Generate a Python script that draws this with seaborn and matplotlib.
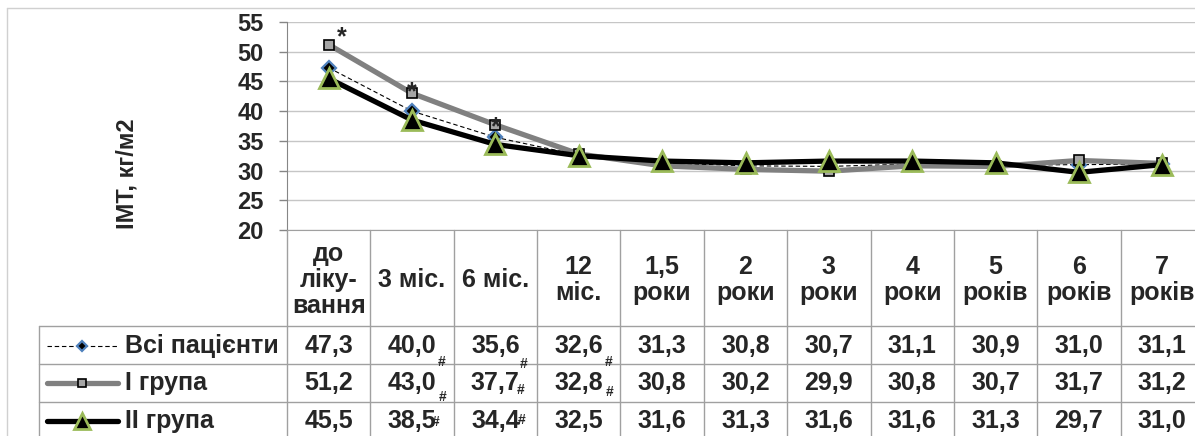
import numpy as np
import pandas as pd
import matplotlib
matplotlib.use("Agg")
import matplotlib.pyplot as plt
import matplotlib.transforms as mtransforms
import seaborn as sns

# ==============================
# DATA
# ==============================
periods = ["до\nліку-\nвання", "3 міс.", "6 міс.", "12\nміс.", "1,5\nроки", "2\nроки",
           "3\nроки", "4\nроки", "5\nроків", "6\nроків", "7\nроків"]
all_patients = [47.3, 40.0, 35.6, 32.6, 31.3, 30.8, 30.7, 31.1, 30.9, 31.0, 31.1]
group_1 = [51.2, 43.0, 37.7, 32.8, 30.8, 30.2, 29.9, 30.8, 30.7, 31.7, 31.2]
group_2 = [45.5, 38.5, 34.4, 32.5, 31.6, 31.3, 31.6, 31.6, 31.3, 29.7, 31.0]
series_names = ["Всі пацієнти", "І група", "ІІ група"]
star_points = [0, 1, 2]          # "*" over group I
hash_points = [[1, 2, 3], [1, 2, 3], [1, 2]]   # "#" marks in table rows

# ==============================
# STYLE
# ==============================
sns.set_style("white")
plt.rcParams["font.family"] = ["Liberation Sans", "DejaVu Sans"]
plt.rcParams["font.weight"] = "bold"

W, H = 1195, 436
GRID = "#c6c6c6"
TAB = "#a0a0a0"

styles = [
    dict(color="black", lw=0.8, ls=(0, (4, 2.5)), marker="D", ms=7,
         mfc="black", mec="#4f81bd", mew=1.6),
    dict(color="#808080", lw=3.8, ls="-", marker="s", ms=6.5,
         mfc="#a6a6a6", mec="black", mew=1.2),
    dict(color="black", lw=3.8, ls="-", marker="^", ms=14,
         mfc="black", mec="#9bbb59", mew=2),
]

df = pd.DataFrame({
    "pos": np.tile(np.arange(len(periods)), 3),
    "value": all_patients + group_1 + group_2,
    "group": np.repeat(series_names, len(periods)),
})

fig = plt.figure(figsize=(W / 100, H / 100), dpi=100)

# full-figure overlay in pixel coordinates (table, labels, border)
ov = fig.add_axes([0, 0, 1, 1], zorder=0)
ov.set_xlim(0, W)
ov.set_ylim(H, 0)
ov.axis("off")

ax = fig.add_axes([287 / W, (H - 230) / H, 917 / W, 208 / H], zorder=1)
ax.patch.set_alpha(0)

# ==============================
# LINES
# ==============================
for name, st in zip(series_names, styles):
    sub = df[df["group"] == name]
    sns.lineplot(data=sub, x="pos", y="value", ax=ax, color=st["color"], lw=st["lw"],
                 linestyle=st["ls"], marker=st["marker"], markersize=st["ms"],
                 markerfacecolor=st["mfc"], markeredgecolor=st["mec"],
                 markeredgewidth=st["mew"], legend=False)

ax.set_xlim(-0.5, len(periods) - 0.5)
ax.set_ylim(20, 55)
ax.set_yticks(range(20, 56, 5))
ax.set_xticks([])
ax.set_xlabel("")
ax.set_ylabel("")
ax.grid(axis="y", color=GRID, lw=1)
ax.tick_params(axis="y", labelsize=17, length=6, width=1, color="#868686",
               direction="out", pad=11, left=True)
for lab in ax.get_yticklabels():
    lab.set_fontweight("bold")
for s in ["top", "right"]:
    ax.spines[s].set_visible(False)
ax.spines["left"].set_color("#868686")
ax.spines["bottom"].set_color(TAB)

# stars over group I
star_offsets = [(13, 0), (0, -6), (0, -10)]
for i, (dx, dy) in zip(star_points, star_offsets):
    ax.annotate("*", (i, group_1[i]), xytext=(dx, dy), textcoords="offset pixels",
                ha="center", va="baseline", fontsize=18, fontweight="bold", zorder=5)

# y label
ov.text(127, 174, "ІМТ, кг/м2", rotation=90, ha="center", va="center",
        fontsize=17, fontweight="bold")

# outer border
ov.plot([7, 7], [8, H], color="#d0d0d0", lw=1)
ov.plot([7, W], [8, 8], color="#d0d0d0", lw=1)

# ==============================
# DATA TABLE
# ==============================
bt = mtransforms.blended_transform_factory(ax.transData, ov.transData)
row_lines = [326, 364, 402]
row_centers = [346, 383, 421]

for k in range(len(periods) + 1):
    ov.plot([k - 0.5, k - 0.5], [230, H], color=TAB, lw=1, transform=bt, clip_on=False)
for y in row_lines:
    ov.plot([39, W], [y, y], color=TAB, lw=1)
ov.plot([39, 39], [326, H], color=TAB, lw=1)

for i, lab in enumerate(periods):
    ov.text(i, 280, lab, transform=bt, ha="center", va="center", fontsize=18,
            fontweight="bold", linespacing=1.13)

rows = [all_patients, group_1, group_2]
hash_off = [[(30, 16), (28, 18), (30, 16)],
            [(31, 14), (25, 7), (31, 9)],
            [(24, 1), (26, -1)]]
for r, (vals, yc) in enumerate(zip(rows, row_centers)):
    for i, v in enumerate(vals):
        ov.text(i, yc, f"{v:.1f}".replace(".", ","), transform=bt, ha="center",
                va="center", fontsize=18, fontweight="bold")
    for i, (dx, dy) in zip(hash_points[r], hash_off[r]):
        ov.annotate("#", (i, yc), xycoords=bt, xytext=(dx, -dy),
                    textcoords="offset pixels", ha="center", va="center",
                    fontsize=10, fontweight="bold")

# legend keys inside table
for st, name, yc in zip(styles, series_names, row_centers):
    ov.plot([47, 118], [yc, yc], color=st["color"], lw=st["lw"], ls=st["ls"],
            solid_capstyle="round")
    ov.plot([82], [yc], marker=st["marker"], ms=st["ms"] * 0.8, mfc=st["mfc"],
            mec=st["mec"], mew=st["mew"], ls="none")
    ov.text(125, yc, name, ha="left", va="center", fontsize=18, fontweight="bold")

fig.savefig("out.png", dpi=100)
